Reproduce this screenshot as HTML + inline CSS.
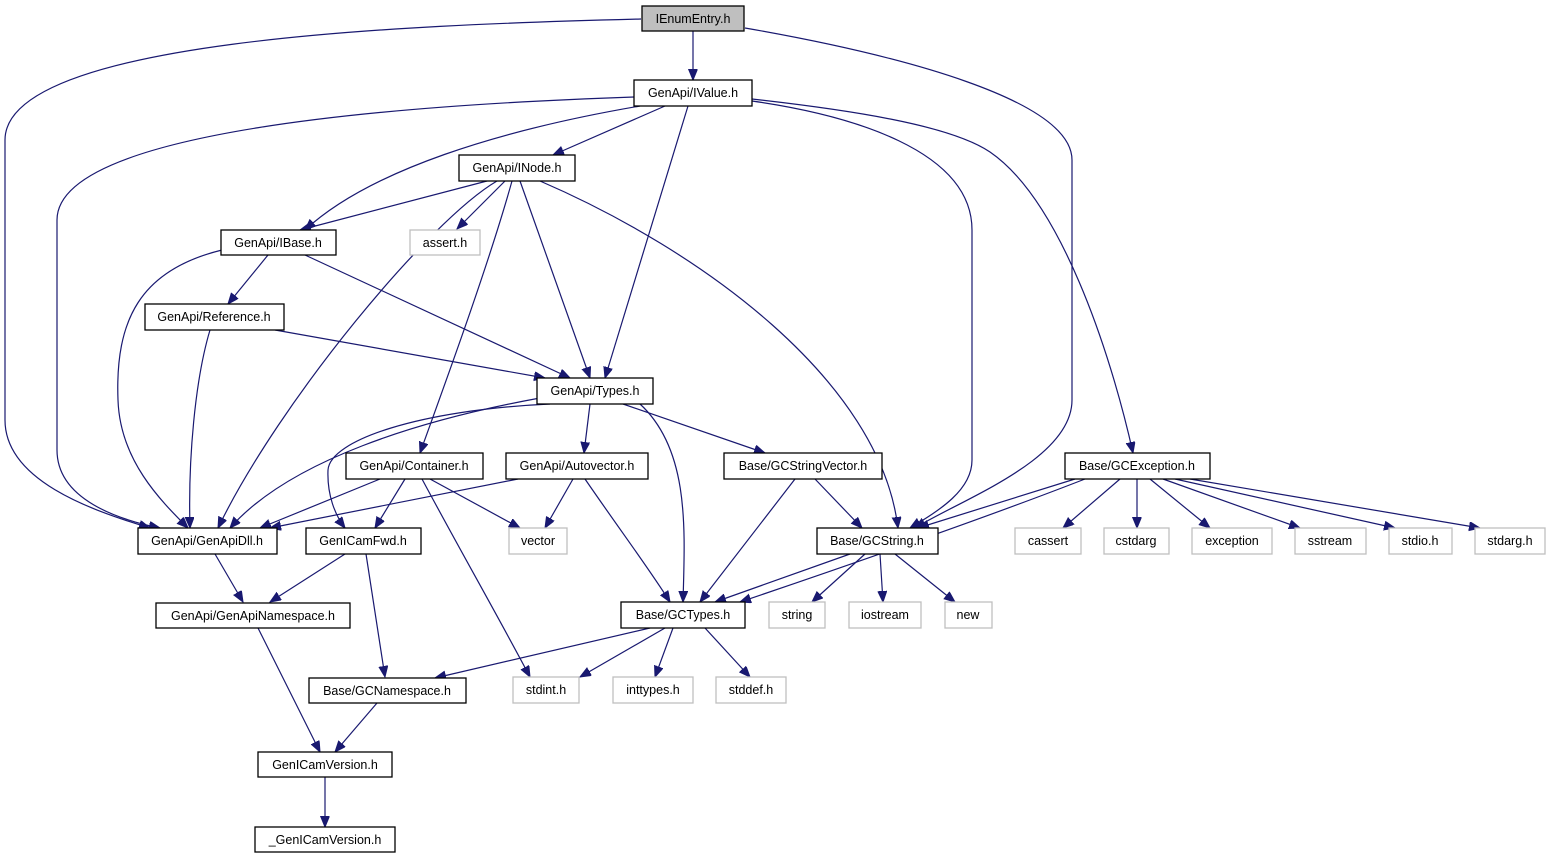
<!DOCTYPE html>
<html><head><meta charset="utf-8"><style>
html,body{margin:0;padding:0;background:#fff;width:1551px;height:859px;overflow:hidden}
svg{display:block}
text{font-family:"Liberation Sans",sans-serif;font-size:12.5px;fill:#000}
.e{fill:none;stroke:#191970;stroke-width:1.2}
.n{fill:#fff;stroke:#000;stroke-width:1.3}
.g{fill:#fff;stroke:#bfbfbf;stroke-width:1.3}
</style></head><body>
<svg width="1551" height="859" viewBox="0 0 1551 859" xmlns="http://www.w3.org/2000/svg">
<defs><marker id="a" markerUnits="userSpaceOnUse" markerWidth="12" markerHeight="10" refX="11" refY="4.5" orient="auto"><path d="M0,0 L11,4.5 L0,9 z" fill="#191970" stroke="#191970"/></marker></defs>
<g class="e" marker-end="url(#a)">
<path d="M693,31 L693,80"/>
<path d="M641,19 C400,25 5,40 5,140 L5,420 C5,480 90,510 150,528"/>
<path d="M745,28 C900,55 1072,100 1072,160 L1072,400 C1072,460 960,500 915,528"/>
<path d="M665,106 L553,155"/>
<path d="M640,106 C500,130 370,170 305,230"/>
<path d="M634,97 C400,105 57,130 57,220 L57,450 C57,500 120,520 160,528"/>
<path d="M688,106 L605,378"/>
<path d="M752,101 C850,115 972,150 972,230 L972,460 C972,490 940,510 910,528"/>
<path d="M752,99 C850,110 950,125 990,152 C1060,200 1110,350 1133,453"/>
<path d="M487,181 L300,230"/>
<path d="M497,181 C430,220 280,400 218,528"/>
<path d="M505,181 L457,229"/>
<path d="M512,181 C490,260 450,370 420,453"/>
<path d="M520,181 L590,378"/>
<path d="M540,181 C700,250 880,380 898,528"/>
<path d="M222,250 C140,270 115,320 118,400 C120,460 160,500 188,528"/>
<path d="M268,255 L228,304"/>
<path d="M305,255 L570,378"/>
<path d="M210,330 C195,380 188,460 190,528"/>
<path d="M275,330 L545,378"/>
<path d="M540,398 C420,420 290,460 230,528"/>
<path d="M550,404 C420,410 330,440 328,470 C327,495 335,515 345,528"/>
<path d="M590,404 L584,453"/>
<path d="M623,404 L765,453"/>
<path d="M640,404 C690,450 685,530 683,602"/>
<path d="M380,479 L260,528"/>
<path d="M405,479 L375,528"/>
<path d="M430,479 L520,528"/>
<path d="M422,479 C460,550 500,620 530,677"/>
<path d="M518,479 L270,528"/>
<path d="M573,479 L545,528"/>
<path d="M585,479 C620,530 650,570 670,602"/>
<path d="M815,479 L862,528"/>
<path d="M795,479 L700,602"/>
<path d="M1075,479 L918,528"/>
<path d="M1085,479 C980,520 820,575 740,602"/>
<path d="M1120,479 L1063,528"/>
<path d="M1137,479 L1137,528"/>
<path d="M1150,479 L1210,528"/>
<path d="M1163,479 L1300,528"/>
<path d="M1175,479 L1395,528"/>
<path d="M1190,479 L1480,528"/>
<path d="M215,554 L243,602"/>
<path d="M345,554 L270,602"/>
<path d="M366,554 L385,677"/>
<path d="M850,554 L715,602"/>
<path d="M865,554 L812,602"/>
<path d="M880,554 L883,602"/>
<path d="M895,554 L955,602"/>
<path d="M650,628 L435,678"/>
<path d="M665,628 L580,677"/>
<path d="M673,628 L655,677"/>
<path d="M705,628 L750,677"/>
<path d="M258,628 L320,752"/>
<path d="M377,703 L335,752"/>
<path d="M325,777 L325,827"/>
</g>
<g text-anchor="middle">
<rect x="642" y="6" width="102" height="25" fill="#bfbfbf" stroke="#000" stroke-width="1.3"/><text x="693" y="23">IEnumEntry.h</text>
<rect class="n" x="634" y="80" width="118" height="26"/><text x="693" y="97">GenApi/IValue.h</text>
<rect class="n" x="459" y="155" width="116" height="26"/><text x="517" y="172">GenApi/INode.h</text>
<rect class="n" x="221" y="230" width="115" height="25"/><text x="278" y="247">GenApi/IBase.h</text>
<rect class="g" x="410" y="230" width="70" height="25"/><text x="445" y="247">assert.h</text>
<rect class="n" x="145" y="304" width="139" height="26"/><text x="214" y="321">GenApi/Reference.h</text>
<rect class="n" x="537" y="378" width="116" height="26"/><text x="595" y="395">GenApi/Types.h</text>
<rect class="n" x="346" y="453" width="137" height="26"/><text x="414" y="470">GenApi/Container.h</text>
<rect class="n" x="506" y="453" width="142" height="26"/><text x="577" y="470">GenApi/Autovector.h</text>
<rect class="n" x="724" y="453" width="158" height="26"/><text x="803" y="470">Base/GCStringVector.h</text>
<rect class="n" x="1065" y="453" width="145" height="26"/><text x="1137" y="470">Base/GCException.h</text>
<rect class="n" x="138" y="528" width="139" height="26"/><text x="207" y="545">GenApi/GenApiDll.h</text>
<rect class="n" x="306" y="528" width="115" height="26"/><text x="363" y="545">GenICamFwd.h</text>
<rect class="g" x="509" y="528" width="58" height="26"/><text x="538" y="545">vector</text>
<rect class="n" x="817" y="528" width="121" height="26"/><text x="877" y="545">Base/GCString.h</text>
<rect class="g" x="1015" y="528" width="66" height="26"/><text x="1048" y="545">cassert</text>
<rect class="g" x="1104" y="528" width="65" height="26"/><text x="1136" y="545">cstdarg</text>
<rect class="g" x="1192" y="528" width="80" height="26"/><text x="1232" y="545">exception</text>
<rect class="g" x="1295" y="528" width="71" height="26"/><text x="1330" y="545">sstream</text>
<rect class="g" x="1389" y="528" width="63" height="26"/><text x="1420" y="545">stdio.h</text>
<rect class="g" x="1475" y="528" width="70" height="26"/><text x="1510" y="545">stdarg.h</text>
<rect class="n" x="156" y="603" width="194" height="25"/><text x="253" y="620">GenApi/GenApiNamespace.h</text>
<rect class="n" x="621" y="602" width="124" height="26"/><text x="683" y="619">Base/GCTypes.h</text>
<rect class="g" x="769" y="602" width="56" height="26"/><text x="797" y="619">string</text>
<rect class="g" x="849" y="602" width="72" height="26"/><text x="885" y="619">iostream</text>
<rect class="g" x="945" y="602" width="47" height="26"/><text x="968" y="619">new</text>
<rect class="n" x="309" y="678" width="157" height="25"/><text x="387" y="695">Base/GCNamespace.h</text>
<rect class="g" x="513" y="677" width="66" height="26"/><text x="546" y="694">stdint.h</text>
<rect class="g" x="613" y="677" width="80" height="26"/><text x="653" y="694">inttypes.h</text>
<rect class="g" x="716" y="677" width="70" height="26"/><text x="751" y="694">stddef.h</text>
<rect class="n" x="258" y="752" width="134" height="25"/><text x="325" y="769">GenICamVersion.h</text>
<rect class="n" x="255" y="827" width="140" height="25"/><text x="325" y="844">_GenICamVersion.h</text>
</g>
</svg>
</body></html>
